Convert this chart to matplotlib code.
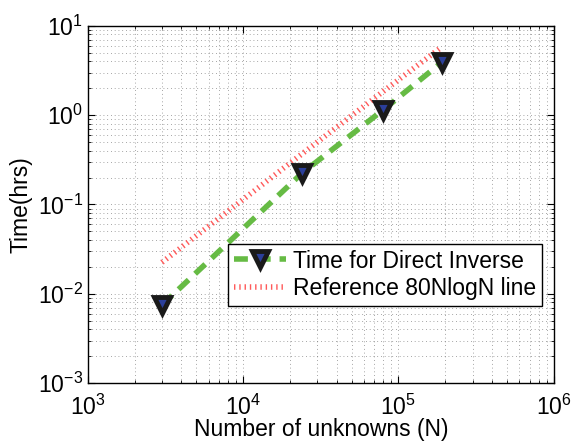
import numpy as np
import matplotlib
matplotlib.use('Agg')
import matplotlib.pyplot as plt

plt.rcParams['font.family'] = ['Liberation Sans', 'DejaVu Sans']
plt.rcParams['mathtext.fontset'] = 'custom'
plt.rcParams['mathtext.rm'] = 'Liberation Sans'
plt.rcParams['mathtext.default'] = 'regular'

# values
n_unknowns = [3000, 24000, 80000, 190000]
direct_time = [0.0075, 0.225, 1.15, 3.9]
ref_time = [0.0225, 0.37, 1.85, 5.8]

fs = 16.5

fig = plt.figure(figsize=(5.78, 4.45), dpi=100)
ax = fig.add_axes([0.152, 0.139, 0.806, 0.803])

ax.plot(n_unknowns, direct_time, color='#66bb44', linestyle=(0, (2.5, 1.6)),
        linewidth=4, marker='v', markersize=11, markerfacecolor='#2b3f9a',
        markeredgecolor='#1a1a1a', markeredgewidth=3.5,
        label='Time for Direct Inverse', zorder=3)
ax.plot(n_unknowns, ref_time, color='#ff5a5a', linestyle=(0, (0.25, 0.7)),
        linewidth=4, label='Reference 80NlogN line', zorder=2)

ax.set_xscale('log')
ax.set_yscale('log')
ax.set_xlim(1e3, 1e6)
ax.set_ylim(1e-3, 1e1)

ax.grid(True, which='both', linestyle=(0, (1, 3.5)), color='#555555', linewidth=0.6, alpha=0.7)
ax.tick_params(which='both', direction='in', top=True, right=True, labelsize=fs)
ax.tick_params(which='major', length=5, width=0.8)
ax.tick_params(which='minor', length=2.5, width=0.6)
ax.tick_params(axis='x', pad=8)
for s in ax.spines.values():
    s.set_linewidth(1.0)

ax.set_xlabel('Number of unknowns (N)', fontsize=fs, labelpad=-1)
ax.set_ylabel('Time(hrs)', fontsize=fs, labelpad=4)

leg = ax.legend(loc='upper right', bbox_to_anchor=(0.975, 0.39), fontsize=fs,
                fancybox=False, framealpha=1, edgecolor='black',
                handlelength=2.3, handletextpad=0.3, borderpad=0.25,
                labelspacing=0.2, borderaxespad=0)
leg.get_frame().set_linewidth(1.0)

fig.savefig('out.png', dpi=100)
